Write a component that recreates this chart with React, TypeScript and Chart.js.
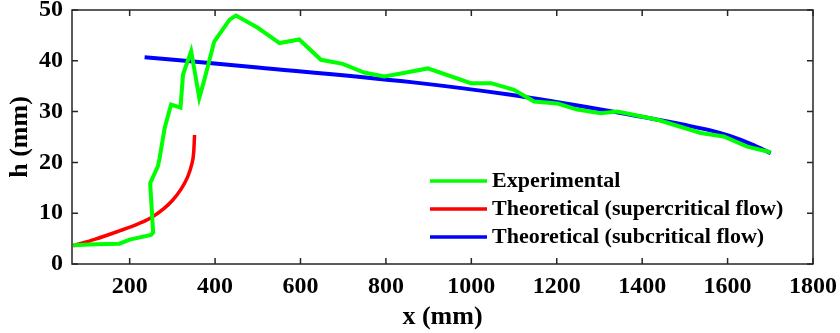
import React, { useEffect, useRef } from "react";
import { Chart, registerables } from "chart.js";

Chart.register(...registerables);

const expX = [68, 120, 176, 200, 250, 255, 248, 266, 270, 282, 297, 319, 325, 344, 363, 375, 398, 434, 449, 500, 551, 597, 648, 699, 749, 796, 835, 898, 999, 1046, 1100, 1147, 1202, 1248, 1303, 1342, 1436, 1537, 1591, 1646, 1701];
const expH = [3.7, 3.9, 4.0, 4.8, 5.7, 6.2, 15.9, 19.2, 20.8, 26.8, 31.4, 30.8, 37.3, 41.9, 32.7, 36.3, 43.8, 48.1, 48.9, 46.5, 43.5, 44.2, 40.2, 39.4, 37.7, 36.9, 37.5, 38.5, 35.6, 35.6, 34.3, 32.0, 31.6, 30.4, 29.7, 30.0, 28.4, 25.8, 25.1, 23.1, 22.0];

const supX = [68, 120, 172, 220, 250, 280, 300, 320, 335, 345, 350, 352];
const supH = [3.6, 4.9, 6.4, 7.9, 9.1, 10.9, 12.5, 14.7, 17.0, 19.5, 22.0, 25.4];

const subX = [235, 500, 859, 1092, 1303, 1498, 1560, 1605, 1655, 1701];
const subH = [40.7, 38.7, 35.8, 33.3, 30.4, 27.4, 26.3, 25.2, 23.6, 21.8];

const seriesNames = ["Experimental", "Theoretical (supercritical flow)", "Theoretical (subcritical flow)"];
const xTicks = [200, 400, 600, 800, 1000, 1200, 1400, 1600, 1800];
const yTicks = [0, 10, 20, 30, 40, 50];

const FONT = "'Liberation Serif', 'DejaVu Serif', serif";
const AXIS = "#262626";

const framePlugin = {
  id: "frame",
  afterDraw(chart: any) {
    const { ctx, chartArea: a, scales } = chart;
    ctx.save();
    ctx.strokeStyle = AXIS;
    ctx.lineWidth = 1.5;
    ctx.strokeRect(a.left, a.top, a.right - a.left, a.bottom - a.top);
    const L = 6;
    ctx.beginPath();
    xTicks.forEach((v) => {
      const px = scales.x.getPixelForValue(v);
      ctx.moveTo(px, a.bottom);
      ctx.lineTo(px, a.bottom - L);
      ctx.moveTo(px, a.top);
      ctx.lineTo(px, a.top + L);
    });
    yTicks.forEach((v) => {
      const py = scales.y.getPixelForValue(v);
      ctx.moveTo(a.left, py);
      ctx.lineTo(a.left + L, py);
      ctx.moveTo(a.right, py);
      ctx.lineTo(a.right - L, py);
    });
    ctx.stroke();
    ctx.restore();
  },
};

const legendPlugin = {
  id: "insideLegend",
  afterDatasetsDraw(chart: any) {
    const { ctx } = chart;
    ctx.save();
    const x0 = 430, x1 = 487, tx = 492;
    const ys = [181, 209, 237];
    chart.data.datasets.forEach((ds: any, i: number) => {
      ctx.strokeStyle = ds.borderColor;
      ctx.lineWidth = 3.5;
      ctx.beginPath();
      ctx.moveTo(x0, ys[i]);
      ctx.lineTo(x1, ys[i]);
      ctx.stroke();
      ctx.fillStyle = "#000";
      ctx.font = `bold 22px ${FONT}`;
      ctx.textBaseline = "middle";
      ctx.textAlign = "left";
      ctx.fillText(ds.label, tx, ys[i]);
    });
    ctx.restore();
  },
};

const zeroPad = (s: any) => {
  s.paddingTop = 0;
  s.paddingBottom = 0;
  s.paddingLeft = 0;
  s.paddingRight = 0;
};

export default function App() {
  const ref = useRef<HTMLCanvasElement>(null);
  useEffect(() => {
    document.body.style.margin = "0";
    const toPts = (xs: number[], ys: number[]) => xs.map((x, i) => ({ x, y: ys[i] }));
    const chart = new Chart(ref.current!, {
      type: "line",
      data: {
        datasets: [
          { label: seriesNames[0], data: toPts(expX, expH), borderColor: "#00ff00", borderWidth: 4, pointRadius: 0, tension: 0 },
          { label: seriesNames[1], data: toPts(supX, supH), borderColor: "#ff0000", borderWidth: 3.5, pointRadius: 0, cubicInterpolationMode: "monotone" },
          { label: seriesNames[2], data: toPts(subX, subH), borderColor: "#0000ff", borderWidth: 4, pointRadius: 0, cubicInterpolationMode: "monotone" },
        ],
      },
      options: {
        animation: false,
        responsive: false,
        layout: { padding: { left: 0, right: 27, top: 10, bottom: 0 } },
        plugins: { legend: { display: false }, tooltip: { enabled: false } },
        scales: {
          x: {
            type: "linear",
            min: 65,
            max: 1800,
            afterBuildTicks: (axis: any) => { axis.ticks = xTicks.map((v) => ({ value: v })); },
            afterFit: (s: any) => { s.height = 69; zeroPad(s); },
            grid: { display: false, drawTicks: false },
            border: { display: false },
            ticks: { color: "#000", padding: 8, maxRotation: 0, callback: (v: any) => String(v), font: { family: FONT, size: 24, weight: "bold" } },
            title: { display: true, text: "x (mm)", color: "#000", padding: { top: 0, bottom: 0 }, font: { family: FONT, size: 26, weight: "bold" } },
          },
          y: {
            type: "linear",
            min: 0,
            max: 50,
            afterBuildTicks: (axis: any) => { axis.ticks = yTicks.map((v) => ({ value: v })); },
            afterFit: (s: any) => { s.width = 72; zeroPad(s); },
            grid: { display: false, drawTicks: false },
            border: { display: false },
            ticks: { color: "#000", padding: 9, callback: (v: any) => String(v), font: { family: FONT, size: 24, weight: "bold" } },
            title: { display: true, text: "h (mm)", color: "#000", padding: { top: 5, bottom: 0 }, font: { family: FONT, size: 26, weight: "bold" } },
          },
        },
      },
      plugins: [framePlugin, legendPlugin],
    } as any);
    return () => chart.destroy();
  }, []);
  return (
    <div style={{ width: 840, height: 333 }}>
      <canvas ref={ref} width={840} height={333} />
    </div>
  );
}
